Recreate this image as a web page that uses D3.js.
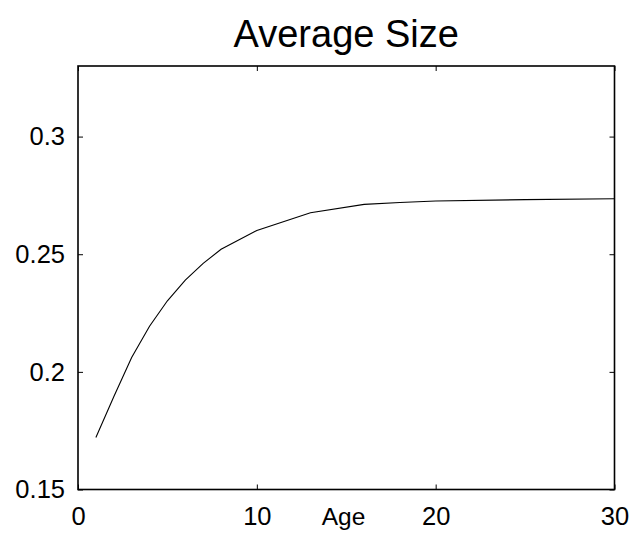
<!DOCTYPE html>
<html>
<head>
  <meta charset="UTF-8">
  <title>Average Size</title>
  <style>
    body { margin: 0; background: #fff; }
    svg { display: block; }
    text { font-family: "Liberation Sans", Arial, Helvetica, sans-serif; fill: #000; }
  </style>
</head>
<body>
  <svg width="636" height="536"></svg>
  <script src="https://d3js.org/d3.v7.min.js"></script>
  <script>
    // data
    const ages  = [1, 2, 3, 4, 5, 6, 7, 8, 10, 13, 16, 18, 20, 25, 30];
    const sizes = [0.1721, 0.1894, 0.2061, 0.2194, 0.2302, 0.2390, 0.2461, 0.2521,
                   0.2601, 0.2676, 0.2712, 0.2720, 0.2726, 0.2732, 0.2736];
    const xTicks = [0, 10, 20, 30];
    const yTicks = [0.15, 0.2, 0.25, 0.3];
    const yTickLabels = ["0.15", "0.2", "0.25", "0.3"];

    const svg = d3.select("svg");
    // plot box edges
    const boxL = 78, boxR = 614.5, boxT = 66, boxB = 489.5;

    const x = d3.scaleLinear().domain([0, 30]).range([boxL, boxR]);
    const y = d3.scaleLinear().domain([0.15, 0.33]).range([boxB, boxT]);

    // ticks pointing inward, on all four sides (matlab style box)
    svg.append("g")
      .attr("transform", `translate(0,${boxB})`)
      .call(d3.axisBottom(x).tickValues(xTicks).tickSizeInner(-5).tickSizeOuter(0).tickPadding(17))
      .call(g => g.select(".domain").remove())
      .call(g => g.selectAll("text").attr("font-size", 25.5).attr("dy", "0.71em"));

    svg.append("g")
      .attr("transform", `translate(0,${boxT})`)
      .call(d3.axisTop(x).tickValues(xTicks).tickSizeInner(-5).tickSizeOuter(0).tickFormat(""))
      .call(g => g.select(".domain").remove());

    svg.append("g")
      .attr("transform", `translate(${boxL},0)`)
      .call(d3.axisLeft(y).tickValues(yTicks).tickSizeInner(-5).tickSizeOuter(0).tickPadding(13)
        .tickFormat((d, i) => yTickLabels[i]))
      .call(g => g.select(".domain").remove())
      .call(g => g.selectAll("text").attr("font-size", 25.5));

    svg.append("g")
      .attr("transform", `translate(${boxR},0)`)
      .call(d3.axisRight(y).tickValues(yTicks).tickSizeInner(-5).tickSizeOuter(0).tickFormat(""))
      .call(g => g.select(".domain").remove());

    svg.selectAll(".tick line").attr("stroke", "#000").attr("stroke-width", 1);

    // box
    svg.append("rect")
      .attr("x", boxL).attr("y", boxT)
      .attr("width", boxR - boxL).attr("height", boxB - boxT)
      .attr("fill", "none").attr("stroke", "#000").attr("stroke-width", 1.6);

    // curve
    const line = d3.line()
      .x((d, i) => x(ages[i]))
      .y(d => y(d));
    svg.append("path")
      .datum(sizes)
      .attr("d", line)
      .attr("fill", "none")
      .attr("stroke", "#000")
      .attr("stroke-width", 1.1);

    // title and axis label
    svg.append("text")
      .attr("x", (boxL + boxR) / 2).attr("y", 46.5)
      .attr("text-anchor", "middle")
      .attr("font-size", 38)
      .text("Average Size");

    svg.append("text")
      .attr("x", 343.5).attr("y", 525)
      .attr("text-anchor", "middle")
      .attr("font-size", 24.5)
      .text("Age");
  </script>
</body>
</html>
